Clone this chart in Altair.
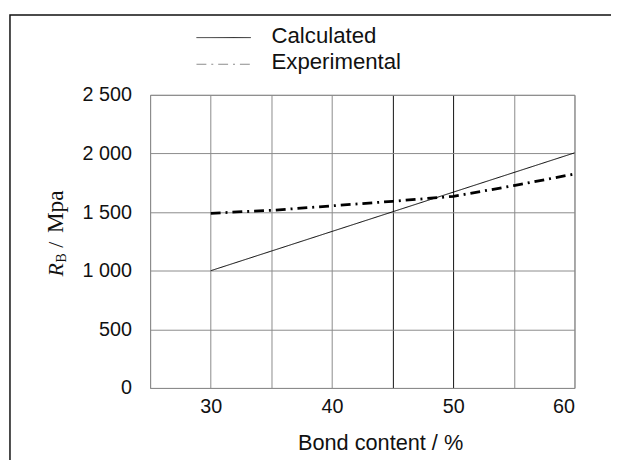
import altair as alt
import pandas as pd

# ---- data ----
calc_x = [30, 60]
calc_y = [1000, 2005]
exp_x = [30, 35, 40, 45, 50, 55, 60]
exp_y = [1490, 1515, 1553, 1592, 1634, 1726, 1825]
series_names = ["Calculated", "Experimental"]
x_grid = [25, 30, 35, 40, 45, 50, 55, 60]
y_ticks = [0, 500, 1000, 1500, 2000, 2500]

df = pd.DataFrame({
    "bond": calc_x + exp_x,
    "rb": calc_y + exp_y,
    "series": ["Calculated"] * len(calc_x) + ["Experimental"] * len(exp_x),
})
legend_df = pd.DataFrame({"series": series_names})

SANS = "Liberation Sans"
SERIF = "Liberation Serif"

dash_scale = alt.Scale(domain=series_names, range=[[1, 0], [10, 5, 2, 5]])

lines = alt.Chart(df).mark_line(color="black").encode(
    x=alt.X(
        "bond:Q",
        scale=alt.Scale(domain=[25, 60], nice=False, zero=False),
        axis=alt.Axis(
            values=x_grid,
            labelExpr="datum.value % 10 == 0 ? datum.label : ''",
            title="Bond content / %",
            titleFont=SANS,
            titleFontSize=22,
            titleFontWeight="normal",
            titleColor="#111",
            titleX=233,
            titleY=62,
            titleAlign="center",
            titleBaseline="alphabetic",
            labelPadding=9,
            gridColor={"condition": {"test": "datum.value == 45 || datum.value == 50", "value": "#111"},
                       "value": "#8a8a8a"},
        ),
    ),
    y=alt.Y(
        "rb:Q",
        scale=alt.Scale(domain=[0, 2500], nice=False),
        axis=alt.Axis(
            values=y_ticks,
            labelExpr="replace(format(datum.value, ','), ',', ' ')",
            title=None,
            labelPadding=19,
            gridColor="#8a8a8a",
        ),
    ),
    strokeDash=alt.StrokeDash("series:N", scale=dash_scale, legend=None),
    strokeWidth=alt.condition("datum.series == 'Experimental'", alt.value(2.8), alt.value(1)),
)

# ---- legend built from the series list (top, above the plot) ----
leg_y = alt.Y("series:N", scale=alt.Scale(type="point", domain=series_names, range=[-58, -31], padding=0), axis=None)

leg_rule = alt.Chart(legend_df).mark_rule(strokeWidth=1).encode(
    x=alt.value(47), x2=alt.value(102),
    y=leg_y,
    strokeDash=alt.StrokeDash("series:N", scale=dash_scale, legend=None),
    color=alt.condition("datum.series == 'Experimental'", alt.value("#8a8a8a"), alt.value("#222")),
)

leg_text = alt.Chart(legend_df).mark_text(
    font=SANS, fontSize=22.5, align="left", baseline="middle", color="#111", dy=-2,
).encode(
    x=alt.value(123),
    y=leg_y,
    text="series:N",
)

one = pd.DataFrame({"k": [0]})

title_r = alt.Chart(one).mark_text(
    text="R", font=SERIF, fontSize=22, fontStyle="italic", angle=270,
    align="left", baseline="alphabetic", color="#111",
).encode(x=alt.value(-88), y=alt.value(184))

title_b = alt.Chart(one).mark_text(
    text="B", font=SERIF, fontSize=14, angle=270,
    align="left", baseline="alphabetic", color="#111",
).encode(x=alt.value(-85), y=alt.value(170))

title_slash = alt.Chart(one).mark_text(
    text="/", font=SERIF, fontSize=22, angle=270,
    align="left", baseline="alphabetic", color="#111",
).encode(x=alt.value(-88), y=alt.value(155))

title_unit = alt.Chart(one).mark_text(
    text="Mpa", font=SERIF, fontSize=23.5, angle=270,
    align="left", baseline="alphabetic", color="#111",
).encode(x=alt.value(-88), y=alt.value(140))

frame = alt.Chart(one).mark_rect(fillOpacity=0, stroke="#111", strokeWidth=1.5).encode(
    x=alt.value(-142), x2=alt.value(800), y=alt.value(-81), y2=alt.value(800)
)

chart = alt.layer(
    frame, lines, leg_rule, leg_text, title_r, title_b, title_slash, title_unit
).resolve_scale(
    y="independent"
).properties(
    width=430,
    height=297,
    padding={"left": 144, "top": 85, "right": 37, "bottom": 70},
    autosize=alt.AutoSizeParams(type="none"),
    background="white",
).configure_view(
    stroke="#8a8a8a", strokeWidth=1
).configure_axis(
    domain=False,
    ticks=False,
    grid=True,
    gridWidth=1,
    labelFont=SANS,
    labelFontSize=20,
    labelColor="#111",
)

chart.save("out.html", embed_options={"renderer": "svg", "actions": False})
